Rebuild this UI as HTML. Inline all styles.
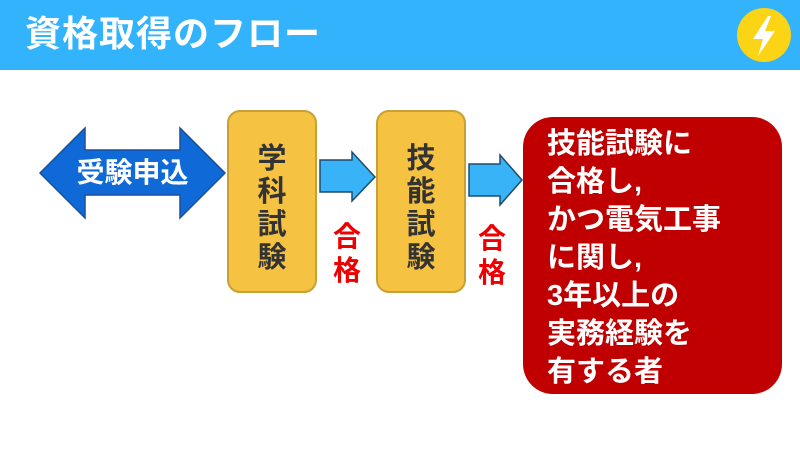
<!DOCTYPE html>
<html><head><meta charset="utf-8"><style>
*{margin:0;padding:0}
body{width:800px;height:450px;background:#fff;position:relative;overflow:hidden;font-family:"Liberation Sans","Noto Sans CJK JP",sans-serif;font-weight:bold}
.hdr{position:absolute;left:0;top:0;width:800px;height:70px;background:#33b3fb}
.title{position:absolute;left:25px;top:11px;font-size:36px;color:#fff;line-height:46px;letter-spacing:1px}
.box{position:absolute;top:110px;width:90px;height:183px;background:#f5c242;border:2px solid #c9a035;border-radius:13px;color:#333;font-size:29px;text-align:center;box-sizing:border-box;padding-top:31px;line-height:33px}
.pass{position:absolute;color:#ee0000;font-size:28px;line-height:34px;width:40px;text-align:center}
.red{position:absolute;left:523px;top:117px;width:259px;height:277px;background:#c00000;border-radius:30px;color:#fff;font-size:29px;line-height:38px;padding:8px 0 0 24px;box-sizing:border-box}
</style></head><body>
<div class="hdr"></div>
<div class="title">資格取得のフロー</div>
<svg style="position:absolute;left:0;top:0" width="800" height="450">
<circle cx="764" cy="35" r="27" fill="#fcd416"/>
<polygon points="768,16 753,39 763,39 758,56 775,31 765,31 771,16" fill="#fff"/>
<polygon points="40,173 85,128 85,150 180,150 180,128 225,173 180,218 180,195 85,195 85,218" fill="#0f6ad8" stroke="#1a4f9a" stroke-width="1.5"/>
<polygon points="320,160 352,160 352,152 375,177 352,201 352,192 320,192" fill="#39b3f8" stroke="#1f4b6b" stroke-width="1.5"/>
<polygon points="469,164 500,164 500,155 522,180 500,205 500,196 469,196" fill="#39b3f8" stroke="#1f4b6b" stroke-width="1.5"/>
</svg>
<div style="position:absolute;left:40px;top:155px;width:185px;text-align:center;color:#fff;font-size:28px;line-height:36px">受験申込</div>
<div class="box" style="left:227px">学<br>科<br>試<br>験</div>
<div class="box" style="left:376px">技<br>能<br>試<br>験</div>
<div class="pass" style="left:327px;top:220px">合<br>格</div>
<div class="pass" style="left:472px;top:222px">合<br>格</div>
<div class="red">技能試験に<br>合格し,<br>かつ電気工事<br>に関し,<br>3年以上の<br>実務経験を<br>有する者</div>
</body></html>
